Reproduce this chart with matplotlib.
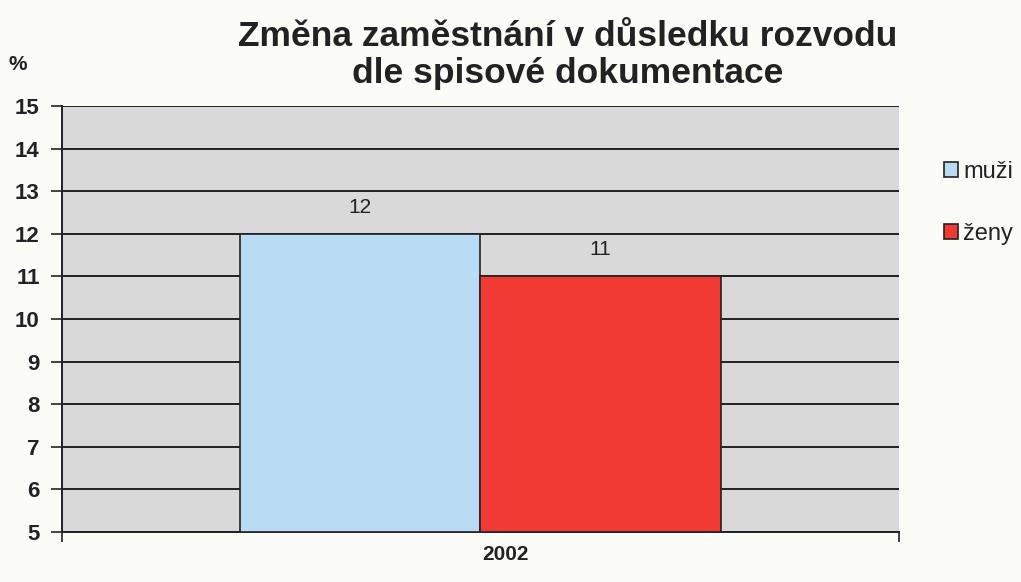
import matplotlib.pyplot as plt
from matplotlib.patches import Patch

plt.rcParams["font.family"] = ["Liberation Sans", "DejaVu Sans"]

# data
year = "2002"
series = ["muži", "ženy"]
values = [12, 11]
colors = ["#b9dbf3", "#f23a35"]
yticks = list(range(5, 16))

fig = plt.figure(figsize=(10.21, 5.82), dpi=100, facecolor="#fbfbf8")
ax = fig.add_axes([0.0607, 0.0859, 0.8198, 0.732])
ax.set_facecolor("#d9d9d9")

width = 0.287
offsets = [-width / 2, width / 2]
for off, v, c, name in zip(offsets, values, colors, series):
    ax.bar(off, v - 5, bottom=5, width=width, color=c, edgecolor="#222222",
           linewidth=1.2, label=name, zorder=3)
    ax.text(off, v + 0.62, str(v), ha="center", va="center", fontsize=15,
            color="#222222", zorder=4)

ax.set_xlim(-0.5, 0.5)
ax.set_ylim(5, 15)
ax.set_yticks(yticks)
ax.set_yticklabels([str(t) for t in yticks], fontsize=16, fontweight="bold",
                   color="#222222")
ax.set_xticks([-0.5, 0.5])
ax.set_xticklabels(["", ""])
ax.tick_params(axis="y", length=8, width=1.2, color="#222222", pad=8)
ax.tick_params(axis="x", length=7, width=1.2, color="#222222")
ax.yaxis.grid(True, color="#222222", linewidth=1.4, zorder=1)
ax.set_axisbelow(True)
for s in ["top", "right"]:
    ax.spines[s].set_visible(False)
ax.spines["left"].set_color("#222222")
ax.spines["left"].set_linewidth(1.4)
ax.spines["bottom"].set_color("#222222")
ax.spines["bottom"].set_linewidth(1.4)

fig.text(0.495, 0.047, year, ha="center", va="center", fontsize=15,
         fontweight="bold", color="#222222")
fig.text(0.008, 0.889, "%", ha="left", va="center", fontsize=15,
         fontweight="bold", color="#222222")
fig.text(0.556, 0.938, "Změna zaměstnání v důsledku rozvodu",
         ha="center", va="center", fontsize=25.5, fontweight="bold", color="#222222")
fig.text(0.556, 0.874, "dle spisové dokumentace",
         ha="center", va="center", fontsize=25.5, fontweight="bold", color="#222222")

handles = [Patch(facecolor=c, edgecolor="#222222", linewidth=1.2) for c in colors]
fig.legend(handles, series, loc="upper left", bbox_to_anchor=(0.904, 0.76),
           frameon=False, fontsize=17, handlelength=0.6, handleheight=0.6,
           handletextpad=0.2, labelspacing=1.7, labelcolor="#222222")

fig.savefig("out.png", dpi=100, facecolor=fig.get_facecolor())
